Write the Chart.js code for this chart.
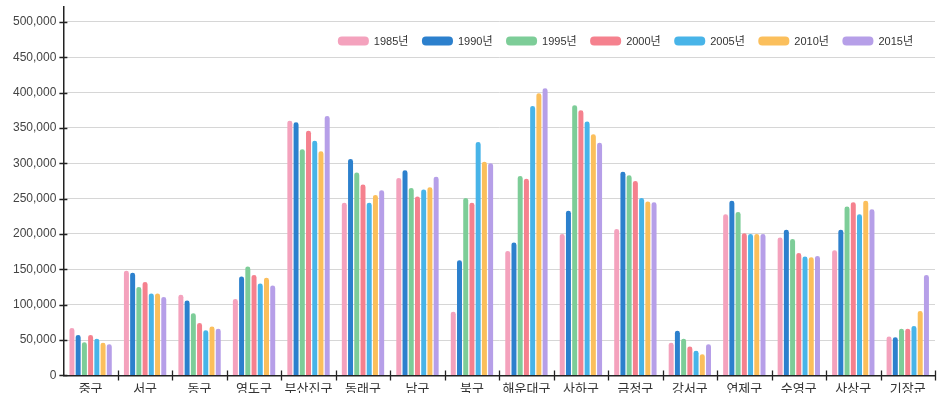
<!DOCTYPE html>
<html lang="ko">
<head>
  <meta charset="UTF-8">
  <title>부산 구·군별 인구</title>
  <script src="https://cdn.jsdelivr.net/npm/chart.js"></script>
  <style>
    html, body { margin: 0; padding: 0; background: #fff; }
    .wrap { width: 943px; height: 400px; }
  </style>
</head>
<body>
<div class="wrap"><canvas id="popChart" width="943" height="400"></canvas></div>

<script>
  const districts = ['중구', '서구', '동구', '영도구', '부산진구', '동래구', '남구', '북구',
    '해운대구', '사하구', '금정구', '강서구', '연제구', '수영구', '사상구', '기장군'];

  const years = ['1985년', '1990년', '1995년', '2000년', '2005년', '2010년', '2015년'];

  const pop1985 = [67000, 148000, 114000, 108000, 360000, 244000, 279000, 90000,
    176000, 200000, 207000, 46000, 228000, 195000, 177000, 55000];
  const pop1990 = [57000, 145000, 106000, 140000, 358000, 306000, 290000, 163000,
    188000, 233000, 288000, 63000, 247000, 206000, 206000, 54000];
  const pop1995 = [47000, 125000, 88000, 154000, 320000, 287000, 265000, 251000,
    282000, 382000, 283000, 52000, 231000, 193000, 239000, 66000];
  const pop2000 = [57000, 132000, 74000, 142000, 346000, 270000, 253000, 244000,
    278000, 375000, 275000, 41000, 201000, 173000, 245000, 66000];
  const pop2005 = [52000, 116000, 64000, 130000, 332000, 244000, 263000, 330000,
    381000, 359000, 251000, 35000, 200000, 168000, 228000, 70000];
  const pop2010 = [46000, 116000, 69000, 138000, 317000, 255000, 266000, 302000,
    399000, 341000, 246000, 30000, 200000, 167000, 247000, 91000];
  const pop2015 = [44000, 111000, 66000, 127000, 367000, 262000, 281000, 300000,
    406000, 329000, 245000, 44000, 200000, 169000, 235000, 142000];

  const yTicks = [0, 50000, 100000, 150000, 200000, 250000, 300000, 350000, 400000, 450000, 500000];

  const seriesValues = [pop1985, pop1990, pop1995, pop2000, pop2005, pop2010, pop2015];
  const colors = ['#f4a2bd', '#2c80cd', '#7dcd98', '#f5818e', '#48b4e8', '#fbbf5c', '#b69fe8'];

  // 축선을 가로지르는 짧은 눈금
  const crossTicks = {
    id: 'crossTicks',
    afterDatasetsDraw(chart) {
      const { ctx, chartArea, scales } = chart;
      ctx.save();
      ctx.strokeStyle = '#222';
      ctx.lineWidth = 1.3;
      ctx.beginPath();
      scales.y.ticks.forEach(t => {
        const y = Math.round(scales.y.getPixelForValue(t.value)) + 0.5;
        ctx.moveTo(chartArea.left - 4, y);
        ctx.lineTo(chartArea.left + 4, y);
      });
      const n = districts.length;
      for (let i = 1; i <= n; i++) {
        const x = Math.round(chartArea.left + (chartArea.right - chartArea.left) * i / n) + 0.5;
        ctx.moveTo(x, chartArea.bottom - 5);
        ctx.lineTo(x, chartArea.bottom + 5);
      }
      ctx.stroke();
      ctx.restore();
    }
  };

  // 차트 영역 안 오른쪽 위 범례
  const insideLegend = {
    id: 'insideLegend',
    afterDraw(chart) {
      const { ctx } = chart;
      const boxW = 31, boxH = 9, gap = 5, spacing = 13.5, right = 913, cy = 41;
      ctx.save();
      ctx.font = "11px 'Liberation Sans', 'Noto Sans CJK KR', sans-serif";
      ctx.textBaseline = 'middle';
      const items = chart.data.datasets.map(ds => ({
        text: ds.label, color: ds.backgroundColor, w: ctx.measureText(ds.label).width
      }));
      const total = items.reduce((s, it) => s + boxW + gap + it.w, 0) + spacing * (items.length - 1);
      let x = right - total;
      items.forEach(it => {
        ctx.fillStyle = it.color;
        ctx.beginPath();
        ctx.roundRect(x, cy - boxH / 2, boxW, boxH, 4);
        ctx.fill();
        x += boxW + gap;
        ctx.fillStyle = '#333';
        ctx.fillText(it.text, x, cy + 0.5);
        x += it.w + spacing;
      });
      ctx.restore();
    }
  };

  new Chart(document.getElementById('popChart'), {
    type: 'bar',
    data: {
      labels: districts,
      datasets: years.map((y, i) => ({
        label: y,
        data: seriesValues[i],
        backgroundColor: colors[i],
        borderWidth: 0,
        borderRadius: { topLeft: 2.5, topRight: 2.5 },
        borderSkipped: 'bottom',
        barPercentage: 0.8,
        categoryPercentage: 0.8
      }))
    },
    plugins: [crossTicks, insideLegend],
    options: {
      responsive: false,
      animation: false,
      layout: { padding: { left: 6, right: 8, top: 7, bottom: 7 } },
      plugins: {
        tooltip: { enabled: false },
        legend: { display: false }
      },
      scales: {
        x: {
          grid: { display: false },
          border: { color: '#222', width: 1.5 },
          ticks: {
            color: '#333',
            padding: -3,
            font: { family: "'Noto Sans CJK KR', sans-serif", size: 13 }
          }
        },
        y: {
          min: 0,
          max: 521000,
          afterBuildTicks(axis) {
            axis.ticks = yTicks.map(v => ({ value: v }));
          },
          afterFit(axis) {
            axis.paddingTop = 0;
          },
          grid: { color: '#d6d6d6', lineWidth: 1, drawTicks: false },
          border: { color: '#222', width: 1.5 },
          ticks: {
            color: '#444',
            padding: 7,
            font: { family: "'Liberation Sans', sans-serif", size: 12 },
            callback: v => v.toLocaleString('en-US')
          }
        }
      }
    }
  });
</script>
</body>
</html>
